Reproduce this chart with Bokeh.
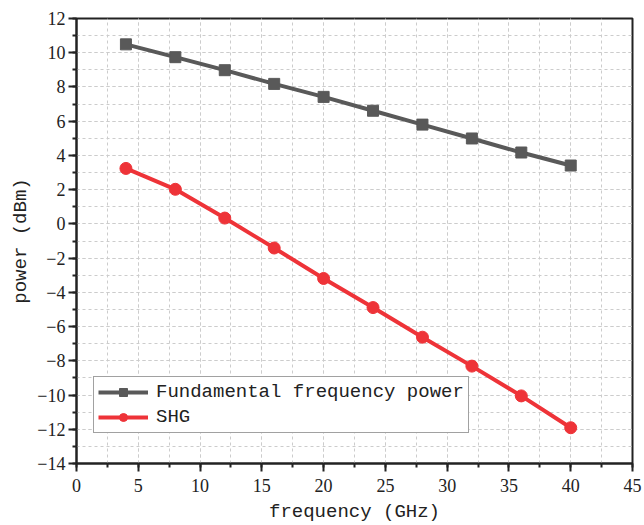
from bokeh.plotting import figure
from bokeh.models import Range1d, SingleIntervalTicker, Legend, LegendItem
from bokeh.embed import file_html
from bokeh.resources import INLINE

freq = [4, 8, 12, 16, 20, 24, 28, 32, 36, 40]
fundamental = [10.49, 9.74, 8.98, 8.18, 7.42, 6.61, 5.80, 4.99, 4.17, 3.41]
shg = [3.24, 2.02, 0.34, -1.41, -3.19, -4.89, -6.62, -8.31, -10.05, -11.91]
label_fund = "Fundamental frequency power"
label_shg = "SHG"
x_label = "frequency (GHz)"
y_label = "power (dBm)"

SERIF = "Liberation Serif"
MONO = "Liberation Mono"

p = figure(width=644, height=525, output_backend="svg", toolbar_location=None,
           x_range=Range1d(0, 45), y_range=Range1d(-14, 12),
           min_border_left=76, min_border_right=12, min_border_top=18, min_border_bottom=59)
p.background_fill_color = "white"
p.border_fill_color = "white"
p.outline_line_color = "#222222"
p.outline_line_width = 2

p.xaxis.ticker = SingleIntervalTicker(interval=5, num_minor_ticks=2)
p.yaxis.ticker = SingleIntervalTicker(interval=2, num_minor_ticks=2)

for ax in (p.xaxis, p.yaxis):
    ax.axis_line_width = 2
    ax.axis_line_color = "#222222"
    ax.major_tick_line_color = "#222222"
    ax.minor_tick_line_color = "#222222"
    ax.major_tick_line_width = 2
    ax.minor_tick_line_width = 2
    ax.major_tick_out = 8
    ax.major_tick_in = 0
    ax.minor_tick_out = 4
    ax.minor_tick_in = 0
    ax.major_label_text_font = SERIF
    ax.major_label_text_font_size = "18px"
    ax.major_label_text_color = "#222222"
    ax.axis_label_text_font = MONO
    ax.axis_label_text_font_size = "19px"
    ax.axis_label_text_font_style = "normal"
    ax.axis_label_text_color = "#222222"

p.xaxis.axis_label = x_label
p.yaxis.axis_label = y_label
p.xaxis.major_label_standoff = 7
p.xaxis.axis_label_standoff = 6
p.yaxis.major_label_standoff = 3
p.yaxis.axis_label_standoff = 2

for g in (p.xgrid, p.ygrid):
    g.grid_line_color = "#cccccc"
    g.grid_line_dash = "3 3"
    g.grid_line_width = 1
    g.minor_grid_line_color = "#cccccc"
    g.minor_grid_line_dash = "3 3"
    g.minor_grid_line_width = 1

gray = "#595959"
red = "#ee3338"
l1 = p.line(freq, fundamental, line_color=gray, line_width=4)
m1 = p.scatter(freq, fundamental, marker="square", size=11, fill_color=gray, line_color=gray)
l2 = p.line(freq, shg, line_color=red, line_width=4)
m2 = p.scatter(freq, shg, marker="circle", size=12, fill_color=red, line_color=red)

legend = Legend(items=[LegendItem(label=label_fund, renderers=[l1, m1]),
                       LegendItem(label=label_shg, renderers=[l2, m2])],
                location=(17, 30))
legend.label_text_font = MONO
legend.label_text_font_size = "19px"
legend.label_text_color = "#222222"
legend.border_line_color = "#444444"
legend.border_line_width = 1.5
legend.glyph_width = 50
legend.glyph_height = 20
legend.spacing = 3
legend.padding = 4
legend.margin = 0
legend.label_standoff = 8
legend.background_fill_alpha = 1
p.add_layout(legend, "center")

open("out.html", "w").write(file_html(p, INLINE))
